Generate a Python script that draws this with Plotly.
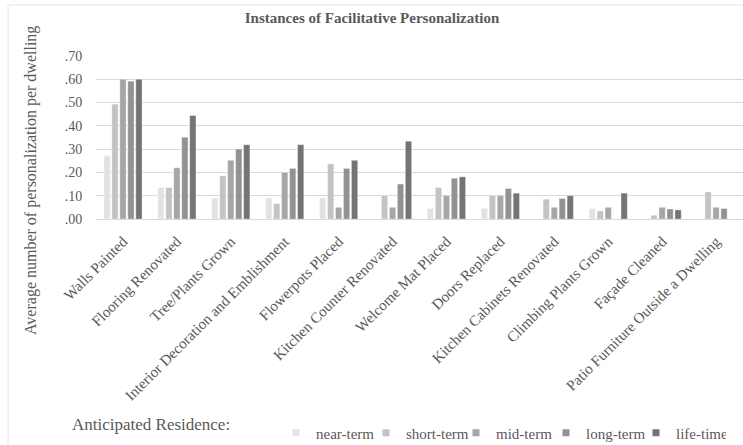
import plotly.graph_objects as go

# Personalization types (x categories)
categories = [
    "Walls Painted",
    "Flooring Renovated",
    "Tree/Plants Grown",
    "Interior Decoration and Emblishment",
    "Flowerpots Placed",
    "Kitchen Counter Renovated",
    "Welcome Mat Placed",
    "Doors Replaced",
    "Kitchen Cabinets Renovated",
    "Climbing Plants Grown",
    "Façade Cleaned",
    "Patio Furniture Outside a Dwelling",
]

# Average number of personalization per dwelling, by anticipated residence
near_term = [0.272, 0.135, 0.090, 0.090, 0.090, 0.000, 0.045, 0.045, 0.000, 0.045, 0.000, 0.000]
short_term = [0.493, 0.135, 0.185, 0.066, 0.237, 0.100, 0.135, 0.100, 0.085, 0.035, 0.016, 0.116]
mid_term = [0.600, 0.220, 0.252, 0.200, 0.050, 0.050, 0.100, 0.100, 0.050, 0.050, 0.050, 0.050]
long_term = [0.592, 0.351, 0.300, 0.217, 0.217, 0.150, 0.175, 0.131, 0.088, 0.000, 0.043, 0.045]
life_time = [0.600, 0.444, 0.319, 0.319, 0.252, 0.334, 0.181, 0.111, 0.100, 0.111, 0.039, 0.000]

series_names = ["near-term", "short-term", "mid-term", "long-term", "life-time"]
series_values = [near_term, short_term, mid_term, long_term, life_time]
series_colors = ["#e2e2e2", "#c3c3c3", "#a6a6a6", "#929292", "#747474"]

y_tickvals = [0.0, 0.1, 0.2, 0.3, 0.4, 0.5, 0.6, 0.7]
y_ticktext = [".00", ".10", ".20", ".30", ".40", ".50", ".60", ".70"]

FONT = "Liberation Serif"
TEXT_GRAY = "#595959"
GRID = "#d9d9d9"

fig = go.Figure()

for name, vals, color in zip(series_names, series_values, series_colors):
    # bars (legend entries drawn by the marker-only traces below)
    fig.add_trace(go.Bar(
        x=categories, y=vals, name=name, showlegend=False,
        marker=dict(color=color, line=dict(color="rgba(255,255,255,0.6)", width=0.5)),
    ))

for name, color in zip(series_names, series_colors):
    # small square swatches for the legend
    fig.add_trace(go.Scatter(
        x=[None], y=[None], name=name, mode="markers",
        marker=dict(symbol="square", size=7, color=color),
    ))

# plot-area geometry in pixels (used to place free text in paper coords)
W, H = 743, 445
L, T, B = 96, 56, 226
PW = W - L
PH = H - T - B


def px_x(x):
    return (x - L) / PW


def px_y(y):
    return (H - B - y) / PH


fig.update_layout(
    width=W, height=H,
    margin=dict(l=L, r=0, t=T, b=B, autoexpand=False),
    paper_bgcolor="white", plot_bgcolor="white",
    barmode="group", bargap=0.26, bargroupgap=0.22,
    font=dict(family=FONT, color=TEXT_GRAY, size=14),
    title=dict(
        text="<b>Instances of Facilitative Personalization</b>",
        x=372 / W, xanchor="center", y=1 - 18 / H, yanchor="middle",
        font=dict(family=FONT, size=15, color=TEXT_GRAY),
    ),
    xaxis=dict(
        type="category", tickangle=-45, showgrid=False,
        showline=True, linecolor=GRID, linewidth=1,
        ticks="outside", ticklen=7, tickcolor="rgba(0,0,0,0)",
        tickfont=dict(family=FONT, size=15, color=TEXT_GRAY),
        fixedrange=True,
    ),
    yaxis=dict(
        range=[0, 0.7], tickvals=y_tickvals, ticktext=y_ticktext,
        showgrid=True, gridcolor=GRID, gridwidth=1,
        zeroline=False, showline=False,
        ticks="outside", ticklen=10, tickcolor="rgba(0,0,0,0)",
        tickfont=dict(family=FONT, size=14, color=TEXT_GRAY),
        fixedrange=True,
    ),
    legend=dict(
        orientation="h", x=px_x(276), xanchor="left", y=px_y(433), yanchor="middle",
        font=dict(family=FONT, size=15, color=TEXT_GRAY),
        bgcolor="rgba(0,0,0,0)", entrywidthmode="pixels", entrywidth=45,
        itemclick=False, itemdoubleclick=False,
    ),
    showlegend=True,
)

# y-axis title
fig.add_annotation(
    text="Average number of personalization per dwelling",
    xref="paper", yref="paper", x=px_x(31), y=px_y(181),
    xanchor="center", yanchor="middle", textangle=-90, showarrow=False,
    font=dict(family=FONT, size=16, color=TEXT_GRAY),
)

# legend caption
fig.add_annotation(
    text="Anticipated Residence:",
    xref="paper", yref="paper", x=px_x(70), y=px_y(425),
    xanchor="left", yanchor="middle", showarrow=False,
    font=dict(family=FONT, size=17, color=TEXT_GRAY),
)

# faint chart frame
fig.add_shape(
    type="rect", xref="paper", yref="paper",
    x0=px_x(8), x1=px_x(760), y0=px_y(460), y1=px_y(5),
    line=dict(color="#e6e6e6", width=1), fillcolor="rgba(0,0,0,0)", layer="below",
)

fig.write_html("out.html", config={"displayModeBar": False})
